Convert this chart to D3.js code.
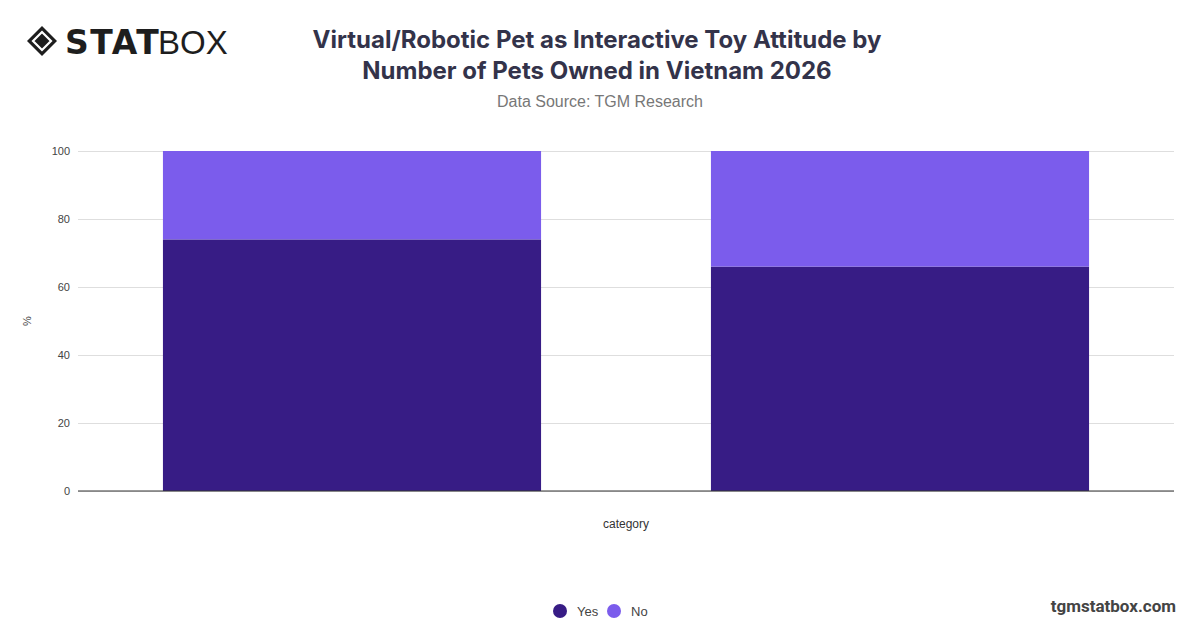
<!DOCTYPE html>
<html>
<head>
<meta charset="utf-8">
<script src="https://cdn.jsdelivr.net/npm/d3@7"></script>
<style>
  body { margin: 0; background: #fff; }
  svg { display: block; font-family: "Liberation Sans", "Open Sans", sans-serif; }
</style>
</head>
<body>
<svg id="chart" width="1200" height="628"></svg>
<script>
// chart data
const categories = ["1 pet", "2+ pets"];
const seriesNames = ["Yes", "No"];
const yesValues = [74, 66];
const noValues = [26, 34];
const yTicks = [0, 20, 40, 60, 80, 100];

const colors = ["#371c85", "#7b5cec"];

const svg = d3.select("#chart");
const margin = { top: 151, right: 26, bottom: 137, left: 78 };
const width = 1200 - margin.left - margin.right;
const height = 628 - margin.top - margin.bottom;

// logo
const logo = svg.append("g").attr("transform", "translate(27, 26)");
logo.append("path")
  .attr("d", "M15 0 L30 15 L15 30 L0 15 Z")
  .attr("fill", "#1e1e1e");
logo.append("path")
  .attr("d", "M15 6 L24 15 L15 24 L6 15 Z")
  .attr("fill", "none")
  .attr("stroke", "#fff")
  .attr("stroke-width", 2.2);
logo.append("text")
  .attr("x", 38).attr("y", 28)
  .style("font-family", "'DejaVu Sans', sans-serif")
  .style("font-weight", 900)
  .style("font-size", "33px")
  .style("letter-spacing", "1.5px")
  .attr("fill", "#1e1e1e")
  .text("STAT");
logo.append("text")
  .attr("x", 131).attr("y", 28)
  .style("font-family", "'Liberation Sans', sans-serif")
  .style("font-weight", 300)
  .style("font-size", "33px")
  .attr("fill", "#1e1e1e")
  .text("BOX");

// title
const title = svg.append("text")
  .attr("text-anchor", "middle")
  .style("font-family", "Inter, 'Open Sans', sans-serif")
  .style("font-weight", 700)
  .style("font-size", "24px")
  .attr("fill", "#33334a");
title.append("tspan").attr("x", 597).attr("y", 48)
  .text("Virtual/Robotic Pet as Interactive Toy Attitude by");
title.append("tspan").attr("x", 597).attr("y", 79)
  .text("Number of Pets Owned in Vietnam 2026");

svg.append("text")
  .attr("x", 600).attr("y", 107)
  .attr("text-anchor", "middle")
  .style("font-size", "16px")
  .attr("fill", "#777")
  .text("Data Source: TGM Research");

const g = svg.append("g").attr("transform", `translate(${margin.left},${margin.top})`);

const x = d3.scaleBand().domain(categories).range([0, width]).paddingInner(0.31).paddingOuter(0.155);
const y = d3.scaleLinear().domain([0, 100]).range([height, 0]);

// grid
g.append("g")
  .call(d3.axisLeft(y).tickValues(yTicks).tickSize(-width).tickFormat(d => d))
  .call(a => a.select(".domain").remove())
  .call(a => a.selectAll(".tick line").attr("stroke", "#dedede"))
  .call(a => a.selectAll(".tick text")
    .attr("x", -8)
    .style("font-family", "'Liberation Sans', sans-serif")
    .style("font-size", "11px")
    .attr("fill", "#444"));

// stacked bars
const rows = categories.map((c, i) => ({ category: c, Yes: yesValues[i], No: noValues[i] }));
const stacked = d3.stack().keys(seriesNames)(rows);

g.selectAll("g.series")
  .data(stacked)
  .enter()
  .append("g")
  .attr("class", "series")
  .attr("fill", (d, i) => colors[i])
  .selectAll("rect")
  .data(d => d)
  .enter()
  .append("rect")
  .attr("x", d => x(d.data.category))
  .attr("width", x.bandwidth())
  .attr("y", d => y(d[1]))
  .attr("height", d => y(d[0]) - y(d[1]));

// baseline
g.append("line")
  .attr("x1", 0).attr("x2", width)
  .attr("y1", height).attr("y2", height)
  .attr("stroke", "#333")
  .attr("stroke-width", 1);

// axis titles
svg.append("text")
  .attr("transform", `translate(31, ${margin.top + height / 2}) rotate(-90)`)
  .attr("text-anchor", "middle")
  .style("font-size", "11px")
  .attr("fill", "#444")
  .text("%");

svg.append("text")
  .attr("x", margin.left + width / 2).attr("y", 528)
  .attr("text-anchor", "middle")
  .style("font-size", "12px")
  .attr("fill", "#333")
  .text("category");

// legend
const legend = svg.append("g").attr("transform", "translate(560, 611)");
const item = legend.selectAll("g")
  .data(seriesNames)
  .enter()
  .append("g")
  .attr("transform", (d, i) => `translate(${i * 54}, 0)`);
item.append("circle")
  .attr("r", 7)
  .attr("fill", (d, i) => colors[i]);
item.append("text")
  .attr("x", 17).attr("y", 0)
  .attr("dominant-baseline", "central")
  .style("font-size", "13px")
  .attr("fill", "#444")
  .text(d => d);

// footer
svg.append("text")
  .attr("x", 1176).attr("y", 612)
  .attr("text-anchor", "end")
  .style("font-family", "Roboto, sans-serif")
  .style("font-weight", 700)
  .style("font-size", "17px")
  .attr("fill", "#444")
  .text("tgmstatbox.com");
</script>
</body>
</html>
